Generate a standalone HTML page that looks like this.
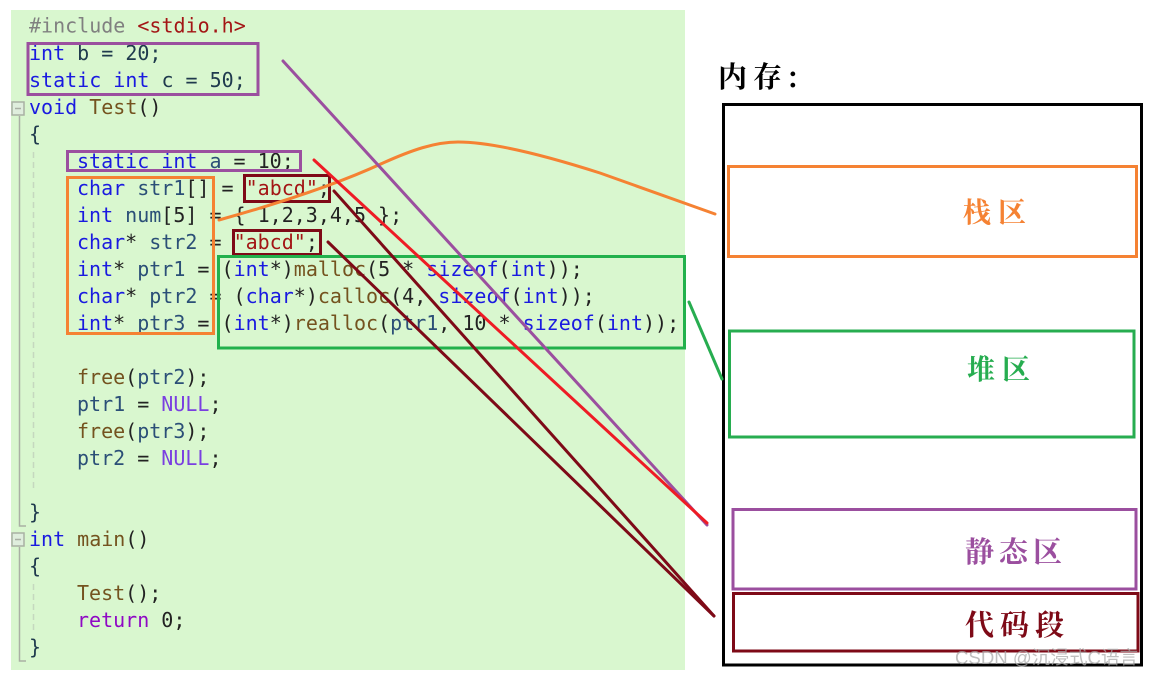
<!DOCTYPE html>
<html><head><meta charset="utf-8"><style>
html,body{margin:0;padding:0;background:#fff;width:1154px;height:677px;overflow:hidden}
svg{display:block}
.c text{font-family:"DejaVu Sans Mono","Liberation Mono",monospace;font-size:20px;fill:#1f3a4d;white-space:pre}
.k{fill:#1a1ae0}.f{fill:#74531f}.v{fill:#2b4f77}.s{fill:#a31515}.m{fill:#8f08c4}.n{fill:#7a3fe0}.p{fill:#808080}.d{fill:#222}
.z{font-family:"Noto Serif CJK SC","Liberation Serif",serif;font-weight:700}
</style></head><body>
<svg width="1154" height="677" viewBox="0 0 1154 677" xmlns="http://www.w3.org/2000/svg">
<rect x="11" y="10" width="674" height="660" fill="#d9f7cf"/>
<!-- fold guides -->
<g fill="none" stroke="#a9b0a4" stroke-width="1.500">
<rect x="12" y="102" width="12" height="13" fill="#dfeedd"/>
<path d="M15 108.500h6"/>
<path d="M19.500 116V526H26"/>
<rect x="12" y="533" width="12" height="13" fill="#dfeedd"/>
<path d="M15 539.500h6"/>
<path d="M19.500 547V661H26"/>
</g>
<g stroke="#c5d8bf" stroke-width="1.500" stroke-dasharray="6 4">
<path d="M33.500 152V490"/><path d="M33.500 584V630"/>
</g>
<g class="c" xml:space="preserve">
<text x="29" y="32.500"><tspan class="p">#include </tspan><tspan class="s">&lt;stdio.h&gt;</tspan></text>
<text x="29" y="60"><tspan class="k">int</tspan><tspan> b = 20;</tspan></text>
<text x="29" y="87"><tspan class="k">static int</tspan><tspan> c = 50;</tspan></text>
<text x="29" y="114"><tspan class="k">void</tspan><tspan class="f"> Test</tspan><tspan class="d">()</tspan></text>
<text x="29" y="141" class="d">{</text>
<text x="77" y="168"><tspan class="k">static int</tspan><tspan class="v"> a</tspan><tspan class="d"> = 10;</tspan></text>
<text x="77" y="195"><tspan class="k">char</tspan><tspan class="v"> str1</tspan><tspan class="d">[] = </tspan><tspan class="s">"abcd"</tspan><tspan class="d">;</tspan></text>
<text x="77" y="222"><tspan class="k">int</tspan><tspan class="v"> num</tspan><tspan class="d">[5] = { 1,2,3,4,5 };</tspan></text>
<text x="77" y="249"><tspan class="k">char</tspan><tspan class="d">*</tspan><tspan class="v"> str2</tspan><tspan class="d"> = </tspan><tspan class="s">"abcd"</tspan><tspan class="d">;</tspan></text>
<text x="77" y="276"><tspan class="k">int</tspan><tspan class="d">*</tspan><tspan class="v"> ptr1</tspan><tspan class="d"> = (</tspan><tspan class="k">int</tspan><tspan class="d">*)</tspan><tspan class="f">malloc</tspan><tspan class="d">(5 * </tspan><tspan class="k">sizeof</tspan><tspan class="d">(</tspan><tspan class="k">int</tspan><tspan class="d">));</tspan></text>
<text x="77" y="303"><tspan class="k">char</tspan><tspan class="d">*</tspan><tspan class="v"> ptr2</tspan><tspan class="d"> = (</tspan><tspan class="k">char</tspan><tspan class="d">*)</tspan><tspan class="f">calloc</tspan><tspan class="d">(4, </tspan><tspan class="k">sizeof</tspan><tspan class="d">(</tspan><tspan class="k">int</tspan><tspan class="d">));</tspan></text>
<text x="77" y="330"><tspan class="k">int</tspan><tspan class="d">*</tspan><tspan class="v"> ptr3</tspan><tspan class="d"> = (</tspan><tspan class="k">int</tspan><tspan class="d">*)</tspan><tspan class="f">realloc</tspan><tspan class="d">(</tspan><tspan class="v">ptr1</tspan><tspan class="d">, 10 * </tspan><tspan class="k">sizeof</tspan><tspan class="d">(</tspan><tspan class="k">int</tspan><tspan class="d">));</tspan></text>
<text x="77" y="384"><tspan class="f">free</tspan><tspan class="d">(</tspan><tspan class="v">ptr2</tspan><tspan class="d">);</tspan></text>
<text x="77" y="411"><tspan class="v">ptr1</tspan><tspan class="d"> = </tspan><tspan class="n">NULL</tspan><tspan class="d">;</tspan></text>
<text x="77" y="438"><tspan class="f">free</tspan><tspan class="d">(</tspan><tspan class="v">ptr3</tspan><tspan class="d">);</tspan></text>
<text x="77" y="465"><tspan class="v">ptr2</tspan><tspan class="d"> = </tspan><tspan class="n">NULL</tspan><tspan class="d">;</tspan></text>
<text x="29" y="519" class="d">}</text>
<text x="29" y="546"><tspan class="k">int</tspan><tspan class="f"> main</tspan><tspan class="d">()</tspan></text>
<text x="29" y="573" class="d">{</text>
<text x="77" y="600"><tspan class="f">Test</tspan><tspan class="d">();</tspan></text>
<text x="77" y="627"><tspan class="m">return</tspan><tspan class="d"> 0;</tspan></text>
<text x="29" y="654" class="d">}</text>
</g>
<!-- code highlight boxes -->
<g fill="none" stroke-width="3">
<rect x="28" y="43.500" width="230" height="51" stroke="#9b4f9f"/>
<rect x="67.500" y="151.500" width="233" height="19" stroke="#9b4f9f"/>
<rect x="67.500" y="177.500" width="146" height="156" stroke="#f58233"/>
<rect x="244.500" y="175.500" width="85" height="26" stroke="#7e0a17"/>
<rect x="233.500" y="230.500" width="87" height="24" stroke="#7e0a17"/>
<rect x="218.500" y="256.500" width="466" height="91.500" stroke="#22b14c"/>
<!-- memory -->
<rect x="723.500" y="104.500" width="418" height="560.500" stroke="#000"/>
<rect x="728.500" y="166.500" width="408" height="90" stroke="#f58233"/>
<rect x="729.500" y="331" width="404.500" height="106" stroke="#27ad50"/>
<rect x="733" y="509.500" width="403" height="79.500" stroke="#9b4f9f"/>
<rect x="733.500" y="593.500" width="404.500" height="57.500" stroke="#7e0a17"/>
</g>
<!-- connectors -->
<g fill="none" stroke-width="3" stroke-linecap="round">
<path d="M219 220C280 203 340 183 383 163C412 150 435 142 458 142C495 142 550 157 600 173L715 214" stroke="#f58233"/>
<path d="M283 61L707 525" stroke="#9b4f9f"/>
<path d="M314 160L707 523" stroke="#ee1c25"/>
<path d="M334 191L714 616" stroke="#7e0a17"/>
<path d="M328 242L714 616" stroke="#7e0a17"/>
<path d="M689 302L722 379" stroke="#27ad50"/>
</g>
<!-- labels -->
<text class="z" x="718" y="87" font-size="29" letter-spacing="6" fill="#000">内存:</text>
<text class="z" x="963" y="222" font-size="28" letter-spacing="7" fill="#f58233">栈区</text>
<text class="z" x="967" y="379" font-size="28" letter-spacing="7" fill="#27ad50">堆区</text>
<text class="z" x="965" y="562" font-size="29" letter-spacing="5" fill="#9b4f9f">静态区</text>
<text class="z" x="965" y="635" font-size="29" letter-spacing="6" fill="#7e0a17">代码段</text>
<text x="955" y="664" font-family="'Liberation Sans','Noto Sans CJK SC',sans-serif" font-size="18.600" fill="#a9a9a9" fill-opacity=".75">CSDN @沉浸式C语言</text>
</svg>
</body></html>
